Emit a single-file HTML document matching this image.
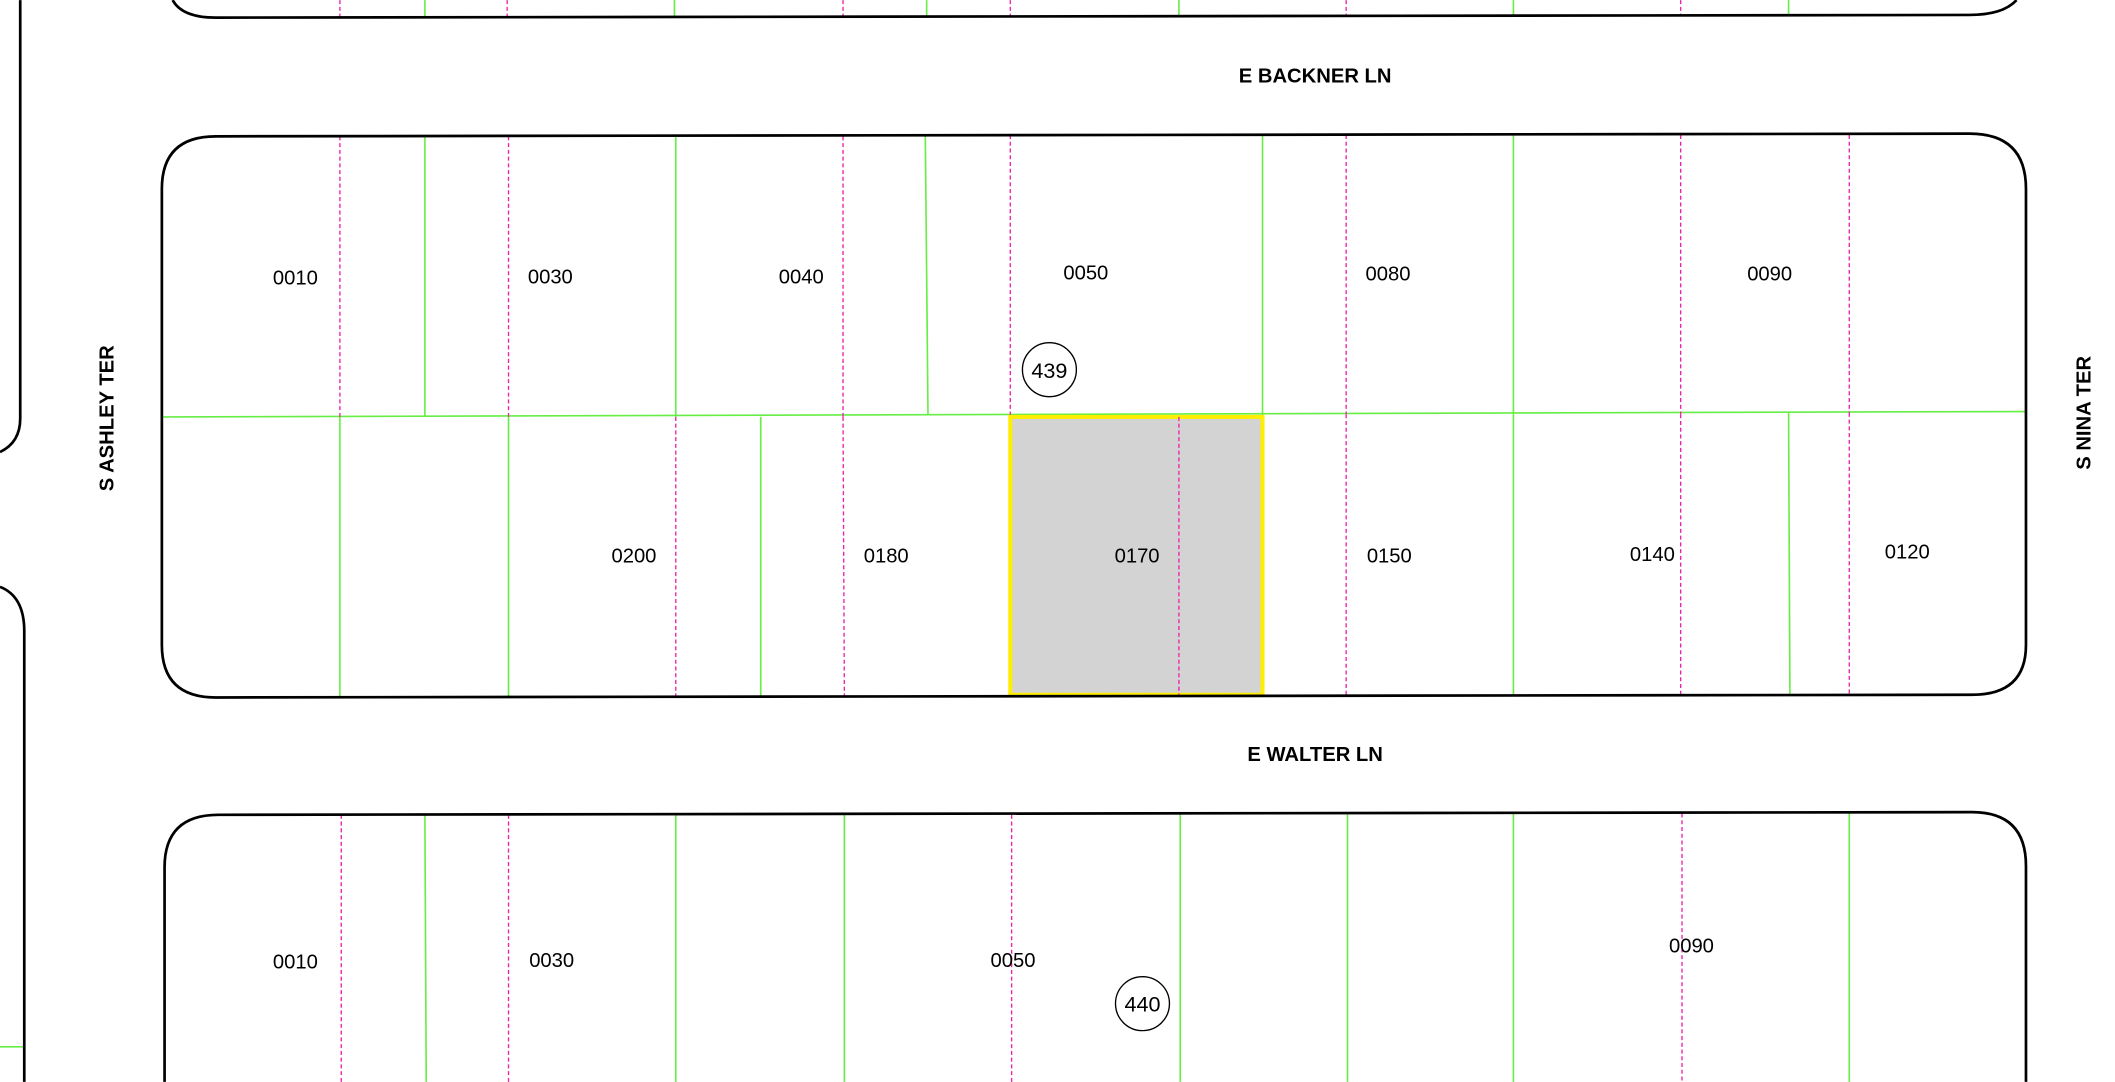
<!DOCTYPE html>
<html><head><meta charset="utf-8"><style>
html,body{margin:0;padding:0;background:#fff;}
svg{display:block;}
text{font-family:"Liberation Sans",sans-serif;fill:#000;}
</style></head><body>
<svg width="2115" height="1082" viewBox="0 0 1568 802" xmlns="http://www.w3.org/2000/svg">
<rect width="1568" height="802" fill="#fff"/>
<!-- green lines -->
<g stroke="#66ee44" stroke-width="1.2" fill="none">
<line x1="315" y1="0" x2="315" y2="13"/><line x1="500" y1="0" x2="500" y2="12"/><line x1="687" y1="0" x2="687" y2="12"/><line x1="874" y1="0" x2="874" y2="12"/><line x1="1122" y1="0" x2="1122" y2="12"/><line x1="1326" y1="0" x2="1326" y2="12"/>
<line x1="121" y1="309" x2="1502" y2="305"/>
<line x1="315" y1="101" x2="315" y2="309"/><line x1="501" y1="101" x2="501" y2="309"/><line x1="686" y1="101" x2="688" y2="308"/><line x1="936" y1="100" x2="936" y2="308"/><line x1="1122" y1="100" x2="1122" y2="307"/>
<line x1="252" y1="309" x2="252" y2="517"/><line x1="377" y1="309" x2="377" y2="517"/><line x1="564" y1="309" x2="564" y2="517"/><line x1="1122" y1="307" x2="1122" y2="515"/><line x1="1326" y1="306" x2="1327" y2="515"/>
<line x1="315" y1="604" x2="316" y2="802"/><line x1="501" y1="604" x2="501" y2="802"/><line x1="626" y1="604" x2="626" y2="802"/><line x1="875" y1="603" x2="875" y2="802"/><line x1="999" y1="603" x2="999" y2="802"/><line x1="1122" y1="603" x2="1122" y2="802"/><line x1="1371" y1="603" x2="1371" y2="802"/>
<line x1="0" y1="776" x2="18" y2="776"/>
</g>
<!-- magenta dashed -->
<g stroke="#ee22aa" stroke-width="1" stroke-dasharray="3,2" fill="none">
<line x1="252" y1="0" x2="252" y2="13"/><line x1="376" y1="0" x2="376" y2="13"/><line x1="625" y1="0" x2="625" y2="12"/><line x1="749" y1="0" x2="749" y2="12"/><line x1="998" y1="0" x2="998" y2="12"/><line x1="1246" y1="0" x2="1246" y2="12"/>
<line x1="252" y1="101" x2="252" y2="309"/><line x1="377" y1="101" x2="377" y2="309"/><line x1="625" y1="101" x2="625" y2="309"/><line x1="749" y1="100" x2="749" y2="309"/><line x1="998" y1="100" x2="998" y2="307"/><line x1="1246" y1="100" x2="1246" y2="307"/><line x1="1371" y1="100" x2="1371" y2="306"/>
<line x1="501" y1="309" x2="501" y2="517"/><line x1="625" y1="309" x2="626" y2="517"/><line x1="998" y1="307" x2="998" y2="515"/><line x1="1246" y1="307" x2="1246" y2="515"/><line x1="1371" y1="306" x2="1371" y2="515"/>
<line x1="253" y1="604" x2="253" y2="802"/><line x1="377" y1="604" x2="377" y2="802"/><line x1="750" y1="604" x2="750" y2="802"/><line x1="1247" y1="603" x2="1247" y2="802"/>
</g>
<!-- selected parcel -->
<rect x="749" y="309" width="187" height="206" fill="#d3d3d3" stroke="#ffee00" stroke-width="3"/>
<line x1="874" y1="309" x2="874" y2="515" stroke="#ee22aa" stroke-width="1" stroke-dasharray="3,2"/>
<!-- block outlines -->
<g stroke="#000" stroke-width="2" fill="none">
<path d="M128,0 Q135,13 160,13 L1460,11 Q1485,11 1495,0"/>
<path d="M160,101 L1460,99 Q1502,99 1502,140 L1502,478 Q1502,515 1462,515 L160,517 Q120,517 120,478 L120,140 Q120,101 160,101 Z"/>
<path d="M122,802 L122,643 Q122,604 162,604 L1462,602 Q1502,602 1502,642 L1502,802"/>
<path d="M15,0 L15,310 Q15,328 0,335"/>
<path d="M0,435 Q18,442 18,468 L18,802"/>
</g>
<!-- labels -->
<g font-size="15" text-anchor="middle">
<text x="219" y="211">0010</text><text x="408" y="210">0030</text><text x="594" y="210">0040</text><text x="805" y="207">0050</text><text x="1029" y="208">0080</text><text x="1312" y="208">0090</text>
<text x="470" y="417">0200</text><text x="657" y="417">0180</text><text x="843" y="417">0170</text><text x="1030" y="417">0150</text><text x="1225" y="416">0140</text><text x="1414" y="414">0120</text>
<text x="219" y="718">0010</text><text x="409" y="717">0030</text><text x="751" y="717">0050</text><text x="1254" y="706">0090</text>
</g>
<g font-size="15" font-weight="bold" text-anchor="middle">
<text x="975" y="61">E BACKNER LN</text>
<text x="975" y="564">E WALTER LN</text>
<text transform="translate(84,310) rotate(-90)">S ASHLEY TER</text>
<text transform="translate(1550,306) rotate(-90)">S NINA TER</text>
</g>
<circle cx="778" cy="274" r="20" fill="#fff" stroke="#000" stroke-width="1"/>
<text x="778" y="280" font-size="16" text-anchor="middle">439</text>
<circle cx="847" cy="744" r="20" fill="#fff" stroke="#000" stroke-width="1"/>
<text x="847" y="750" font-size="16" text-anchor="middle">440</text>
</svg>
</body></html>
